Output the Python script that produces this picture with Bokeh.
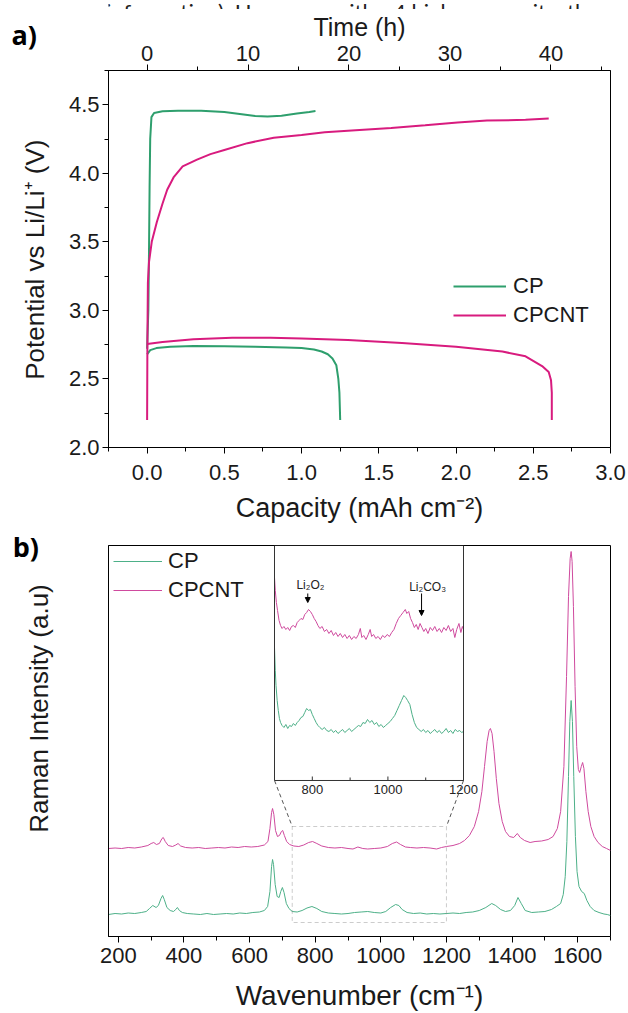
from bokeh.plotting import figure
from bokeh.layouts import column
from bokeh.models import (Range1d, LinearAxis, FixedTicker, PrintfTickFormatter, Legend,
                          LegendItem, Label, BoxAnnotation, Arrow, NormalHead)
from bokeh.core.properties import value
from bokeh.embed import file_html
from bokeh.resources import INLINE
import math

FONT = "Liberation Sans"

# ---------------- Panel a data (capacity mAh cm-2, potential V) ----------------
cp_charge = [(0.0, 2.72), (0.008, 3.0), (0.012, 3.4), (0.016, 3.9), (0.02, 4.25), (0.028, 4.41),
             (0.045, 4.44), (0.1, 4.452), (0.2, 4.457), (0.35, 4.457), (0.5, 4.447), (0.6, 4.433),
             (0.7, 4.418), (0.78, 4.414), (0.87, 4.42), (0.97, 4.436), (1.05, 4.448), (1.09, 4.455)]
cp_discharge = [(0.0, 2.68), (0.02, 2.71), (0.06, 2.725), (0.15, 2.735), (0.3, 2.74), (0.5, 2.738),
                (0.7, 2.735), (0.9, 2.73), (1.0, 2.725), (1.08, 2.715), (1.13, 2.70), (1.17, 2.68),
                (1.2, 2.65), (1.225, 2.6), (1.238, 2.5), (1.245, 2.4), (1.25, 2.2)]
cnt_charge = [(0.0, 2.2), (0.002, 2.8), (0.005, 3.2), (0.012, 3.35), (0.03, 3.5), (0.063, 3.645),
              (0.1, 3.78), (0.13, 3.88), (0.171, 3.97), (0.23, 4.05), (0.323, 4.10), (0.41, 4.14),
              (0.50, 4.17), (0.65, 4.22), (0.82, 4.26), (1.0, 4.28), (1.15, 4.30), (1.35, 4.315),
              (1.58, 4.33), (1.8, 4.35), (2.01, 4.37), (2.2, 4.385), (2.45, 4.39), (2.6, 4.40)]
cnt_discharge = [(0.0, 2.755), (0.1, 2.77), (0.3, 2.79), (0.55, 2.80), (0.8, 2.80), (1.0, 2.795),
                 (1.3, 2.785), (1.65, 2.763), (2.0, 2.735), (2.3, 2.70), (2.45, 2.665), (2.557, 2.594),
                 (2.6, 2.55), (2.615, 2.49), (2.62, 2.4), (2.62, 2.2)]

cap_ticks = [0.0, 0.5, 1.0, 1.5, 2.0, 2.5, 3.0]
cap_minor = [-0.25, 0.25, 0.75, 1.25, 1.75, 2.25, 2.75]
pot_ticks = [2.0, 2.5, 3.0, 3.5, 4.0, 4.5]
pot_minor = [2.25, 2.75, 3.25, 3.75, 4.25, 4.75]
time_ticks = [0, 10, 20, 30, 40]
time_minor = [5, 15, 25, 35, 45]
time_range = (-3.82, 45.9)

# ---------------- Panel b data (wavenumber cm-1, intensity a.u.) ----------------
cp_raman = [(170, 22), (190, 23), (210, 22.5), (230, 23.5), (250, 23), (270, 24), (285, 25), (295, 28),
            (305, 31), (315, 29), (322, 31), (330, 38), (335, 41), (340, 37), (348, 29), (358, 26),
            (368, 25), (375, 27), (380, 29), (386, 26), (395, 24), (410, 23), (430, 22.5), (450, 22),
            (470, 23), (490, 22), (510, 22.5), (530, 23), (550, 22.5), (570, 23.5), (590, 23), (610, 24),
            (630, 24.5), (645, 26), (655, 30), (662, 45), (667, 70), (670, 77), (673, 72), (678, 52),
            (684, 40), (690, 39), (695, 45), (700, 49), (705, 44), (712, 33), (720, 28), (730, 25),
            (745, 24.5), (760, 26), (775, 28.5), (790, 30), (805, 28), (820, 25), (840, 23.5), (860, 23),
            (880, 22.5), (900, 23), (920, 24), (940, 24.5), (960, 25), (980, 24), (1000, 23.5), (1015, 25),
            (1030, 29), (1045, 32), (1055, 31), (1065, 27), (1080, 24), (1100, 23), (1120, 23.5),
            (1140, 22.5), (1160, 23), (1180, 22.5), (1200, 23), (1220, 23.5), (1240, 23), (1260, 24),
            (1280, 24.5), (1300, 26), (1320, 29), (1338, 33), (1350, 31), (1365, 27), (1380, 25),
            (1395, 26), (1408, 31), (1418, 39), (1428, 33), (1440, 26), (1460, 24), (1480, 24.5),
            (1500, 25), (1520, 27), (1535, 30), (1548, 33), (1556, 42), (1562, 60), (1567, 95),
            (1572, 160), (1576, 215), (1580, 236), (1584, 215), (1588, 160), (1593, 100), (1598, 65),
            (1604, 50), (1612, 45), (1620, 43), (1628, 36), (1638, 30), (1650, 26), (1665, 24),
            (1680, 22.5), (1690, 22), (1700, 21)]
cnt_raman = [(170, 88), (190, 88.5), (210, 88), (230, 89), (250, 88.5), (270, 89.5), (290, 91), (300, 93),
             (308, 94), (316, 92), (325, 93), (333, 98), (337, 99), (343, 95), (352, 91), (365, 90),
             (375, 91.5), (382, 93), (390, 90.5), (405, 89), (425, 88.5), (445, 89), (465, 88),
             (485, 88.5), (505, 89), (525, 88.5), (545, 89.5), (565, 89), (585, 90), (605, 89.5),
             (625, 90), (645, 91.5), (656, 95), (662, 108), (667, 124), (670, 128), (674, 122),
             (679, 106), (685, 100), (691, 101), (697, 105), (701, 106), (706, 101), (713, 95),
             (722, 92), (735, 90.5), (750, 90), (765, 91.5), (780, 94), (792, 95), (805, 93),
             (820, 90.5), (840, 89), (860, 88.5), (880, 89), (900, 88), (915, 87.5), (930, 89.5),
             (945, 88), (960, 87.5), (980, 88), (1000, 88.5), (1020, 90), (1035, 93), (1048, 94.5),
             (1060, 92), (1075, 89.5), (1090, 89), (1110, 88.5), (1130, 89), (1150, 88.5), (1170, 87.5),
             (1185, 89), (1200, 90), (1220, 91), (1240, 93), (1255, 96), (1270, 101), (1285, 110),
             (1298, 125), (1308, 145), (1316, 170), (1324, 195), (1330, 206), (1334, 208), (1339, 203),
             (1345, 185), (1352, 158), (1360, 133), (1370, 115), (1380, 105), (1392, 100), (1405, 99),
             (1416, 103), (1425, 99), (1438, 96), (1455, 94), (1470, 95), (1490, 95.5), (1510, 97),
             (1525, 100), (1538, 108), (1548, 125), (1558, 170), (1566, 260), (1572, 340), (1577, 378),
             (1580, 385), (1583, 375), (1587, 330), (1592, 250), (1597, 190), (1602, 167), (1606, 164),
             (1611, 170), (1615, 174), (1619, 168), (1625, 145), (1632, 125), (1640, 110), (1650, 100),
             (1662, 94), (1675, 90), (1688, 88), (1700, 86)]

inset_cnt = [(700, 203), (702, 190), (705, 178), (708, 170), (712, 160), (716, 155), (720, 152), (725, 154),
             (730, 151), (735, 153), (740, 150), (745, 154), (750, 155), (755, 153), (760, 158), (765, 160),
             (770, 162), (775, 161), (780, 166), (785, 168), (790, 171), (795, 169), (800, 166), (805, 162),
             (810, 159), (815, 155), (820, 152), (826, 154), (832, 149), (838, 151), (844, 147), (850, 150),
             (856, 145), (862, 148), (868, 144), (874, 147), (880, 143), (886, 146), (892, 142), (898, 145),
             (904, 141), (910, 144), (916, 142), (922, 146), (927, 152), (931, 143), (936, 145), (942, 141),
             (948, 146), (953, 151), (957, 144), (962, 146), (968, 142), (974, 144), (980, 141), (986, 145),
             (992, 143), (998, 146), (1004, 144), (1010, 148), (1016, 151), (1022, 157), (1028, 162),
             (1034, 165), (1040, 168), (1046, 171), (1050, 167), (1055, 169), (1060, 162), (1065, 158),
             (1070, 153), (1075, 156), (1080, 151), (1085, 157), (1090, 153), (1095, 149), (1100, 152),
             (1106, 147), (1112, 153), (1118, 150), (1124, 154), (1130, 149), (1136, 152), (1142, 148),
             (1148, 153), (1154, 150), (1160, 155), (1166, 149), (1172, 152), (1177, 143), (1182, 151),
             (1188, 157), (1193, 148), (1197, 154), (1200, 151)]
inset_cp = [(700, 133), (702, 110), (704, 95), (707, 80), (710, 70), (713, 62), (716, 58), (720, 55),
            (725, 53), (730, 56), (735, 52), (740, 55), (745, 54), (750, 57), (755, 55), (760, 58),
            (765, 60), (770, 63), (775, 64), (780, 68), (785, 72), (790, 70), (795, 71), (800, 66),
            (805, 62), (810, 58), (815, 55), (820, 53), (826, 51), (832, 53), (838, 50), (844, 49),
            (850, 51), (856, 48), (862, 50), (868, 47), (874, 49), (880, 51), (886, 48), (892, 50),
            (898, 52), (904, 49), (910, 51), (916, 53), (922, 55), (928, 54), (934, 58), (940, 57),
            (946, 61), (952, 58), (958, 60), (964, 56), (970, 58), (976, 54), (982, 56), (988, 53),
            (994, 55), (1000, 57), (1006, 59), (1012, 62), (1018, 65), (1024, 70), (1030, 75), (1036, 80),
            (1042, 85), (1047, 83), (1052, 80), (1058, 76), (1064, 66), (1070, 58), (1076, 53), (1082, 51),
            (1088, 49), (1094, 51), (1100, 48), (1106, 50), (1112, 47), (1118, 49), (1124, 51), (1130, 48),
            (1136, 50), (1142, 47), (1148, 49), (1154, 52), (1160, 48), (1166, 50), (1172, 47), (1178, 51),
            (1184, 49), (1190, 50), (1195, 48), (1200, 49)]

wn_ticks = [200, 400, 600, 800, 1000, 1200, 1400, 1600]
wn_minor = [300, 500, 700, 900, 1100, 1300, 1500, 1700]
inset_ticks = [800, 1000, 1200]
inset_tick_labels = ["800", "1000", "1200"]
inset_minor = [900, 1100]
inset_xlim = (700, 1200)
inset_ylim = (0, 235)
zoom_box = dict(left=730, right=1200, bottom=14, top=110)

header_text = ["information). However, with ~4 higher capacity, than the"]

GREEN_A, PINK_A = "#2E9F6D", "#D81B7E"
GREEN_B, PINK_B = "#4DB088", "#CF4A9E"


def xs(pairs):
    return [p[0] for p in pairs]


def ys(pairs):
    return [p[1] for p in pairs]


def style_axis(ax, tick_size="22px", label_size="26px"):
    ax.major_label_text_font = FONT
    ax.major_label_text_font_size = tick_size
    ax.major_label_text_color = "#1a1a1a"
    ax.axis_label_text_font = FONT
    ax.axis_label_text_font_size = label_size
    ax.axis_label_text_font_style = "normal"
    ax.axis_label_text_color = "#1a1a1a"
    ax.axis_line_color = "black"
    ax.major_tick_line_color = "black"
    ax.minor_tick_line_color = "black"
    ax.major_tick_in = 0
    ax.major_tick_out = 6
    ax.minor_tick_in = 0
    ax.minor_tick_out = 4


# ---------------- header strip: the clipped line of body text above the chart ----------------
HEADER_H = 9
hf = figure(width=628, height=HEADER_H, x_range=Range1d(0, 628), y_range=Range1d(0, HEADER_H),
            output_backend="svg", toolbar_location=None, min_border=0,
            x_axis_location=None, y_axis_location=None)
hf.outline_line_color = None
hf.xgrid.visible = False
hf.ygrid.visible = False
hf.text(x=[-3], y=[1], text=header_text, text_font=value("Lato"), text_font_size="22px",
        text_baseline="alphabetic", text_color="#222222")

# ---------------- Panel a ----------------
pa = figure(width=628, height=525 - HEADER_H, x_range=Range1d(-0.25, 3.0), y_range=Range1d(2.0, 4.75),
            output_backend="svg", toolbar_location=None,
            min_border_left=108, min_border_right=18, min_border_top=68 - HEADER_H, min_border_bottom=78,
            x_axis_label="Capacity (mAh cm\u207b\u00b2)")
pa.xgrid.visible = False
pa.ygrid.visible = False
pa.outline_line_color = "black"
pa.outline_line_alpha = 1.0

pa.extra_x_ranges = {"time": Range1d(*time_range)}
top_axis = LinearAxis(x_range_name="time", axis_label="Time (h)",
                      ticker=FixedTicker(ticks=time_ticks, minor_ticks=time_minor))
pa.add_layout(top_axis, "above")

bx = pa.below[0]
bx.ticker = FixedTicker(ticks=cap_ticks, minor_ticks=cap_minor)
bx.formatter = PrintfTickFormatter(format="%.1f")
ly = pa.left[0]
ly.ticker = FixedTicker(ticks=pot_ticks, minor_ticks=pot_minor)
ly.formatter = PrintfTickFormatter(format="%.1f")
for ax in (bx, ly, top_axis):
    style_axis(ax)
bx.axis_label_text_font_size = "27px"
ly.major_label_standoff = 3
bx.major_label_standoff = 11
bx.axis_label_standoff = 10
top_axis.axis_label_text_font_size = "25px"
top_axis.axis_label_text_line_height = 0.9
top_axis.major_label_text_line_height = 0.9
top_axis.major_label_standoff = 4
top_axis.axis_label_standoff = 2

r_cp_c = pa.line(xs(cp_charge), ys(cp_charge), line_color=GREEN_A, line_width=2)
pa.line(xs(cp_discharge), ys(cp_discharge), line_color=GREEN_A, line_width=2)
r_cnt_c = pa.line(xs(cnt_charge), ys(cnt_charge), line_color=PINK_A, line_width=2)
pa.line(xs(cnt_discharge), ys(cnt_discharge), line_color=PINK_A, line_width=2)

leg_a = Legend(items=[LegendItem(label="CP", renderers=[r_cp_c]),
                      LegendItem(label="CPCNT", renderers=[r_cnt_c])],
               location=(345, 119), glyph_width=53, glyph_height=20, label_height=20,
               label_standoff=7, spacing=3, padding=0, margin=0,
               border_line_alpha=0, background_fill_alpha=0,
               label_text_font=FONT, label_text_font_size="22px", label_text_color="#1a1a1a")
pa.add_layout(leg_a)

# y title and panel letter live in the left side panel (not clipped to the frame)
pa.add_layout(Label(x=-0.729, y=3.37, text="Potential vs Li/Li\u207a (V)", angle=math.pi / 2,
                    text_align="center", text_baseline="middle",
                    text_font=FONT, text_font_size="26px", text_color="#1a1a1a"), "left")
pa.add_layout(Label(x=-0.878, y=5.014, text="a)", text_font="Open Sans", text_font_style="bold",
                    text_font_size="27px", text_baseline="middle", text_color="black"), "left")

# ---------------- Panel b ----------------
pb = figure(width=628, height=488, x_range=Range1d(170, 1700), y_range=Range1d(0, 391),
            output_backend="svg", toolbar_location=None,
            min_border_left=108, min_border_right=18, min_border_top=20, min_border_bottom=77,
            x_axis_label="Wavenumber (cm\u207b\u00b9)")
pb.xgrid.visible = False
pb.ygrid.visible = False
pb.outline_line_color = "black"
pb.outline_line_alpha = 1.0

bxb = pb.below[0]
bxb.ticker = FixedTicker(ticks=wn_ticks, minor_ticks=wn_minor)
lyb = pb.left[0]
lyb.ticker = FixedTicker(ticks=[], minor_ticks=[])
for ax in (bxb, lyb):
    style_axis(ax, tick_size="22px", label_size="28px")
lyb.major_tick_out = 0
lyb.minor_tick_out = 0
bxb.major_label_standoff = 5
bxb.axis_label_standoff = 14

r_cp_b = pb.line(xs(cp_raman), ys(cp_raman), line_color=GREEN_B, line_width=1)
r_cnt_b = pb.line(xs(cnt_raman), ys(cnt_raman), line_color=PINK_B, line_width=1)

leg_b = Legend(items=[LegendItem(label="CP", renderers=[r_cp_b]),
                      LegendItem(label="CPCNT", renderers=[r_cnt_b])],
               location=(5, 333), glyph_width=49, glyph_height=20, label_height=20,
               label_standoff=6, spacing=3, padding=0, margin=0,
               border_line_alpha=0, background_fill_alpha=0,
               label_text_font=FONT, label_text_font_size="22px", label_text_color="#1a1a1a")
pb.add_layout(leg_b)

pb.add_layout(Label(x=-43, y=228, text="Raman Intensity (a.u)", angle=math.pi / 2,
                    text_align="center", text_baseline="middle",
                    text_font=FONT, text_font_size="26px", text_color="#1a1a1a"), "left")

# inset ranges: inset occupies a fixed fraction of the frame
INSET_FX = (0.3307, 0.7072)
INSET_FY = (0.399, 1.0)
ix_span = (inset_xlim[1] - inset_xlim[0]) / (INSET_FX[1] - INSET_FX[0])
ix_start = inset_xlim[0] - INSET_FX[0] * ix_span
iy_span = (inset_ylim[1] - inset_ylim[0]) / (INSET_FY[1] - INSET_FY[0])
iy_start = inset_ylim[0] - INSET_FY[0] * iy_span
pb.extra_x_ranges = {"ix": Range1d(ix_start, ix_start + ix_span)}
pb.extra_y_ranges = {"iy": Range1d(iy_start, iy_start + iy_span)}


def inset_to_main(x, y):
    fx = (x - ix_start) / ix_span
    fy = (y - iy_start) / iy_span
    return (pb.x_range.start + fx * (pb.x_range.end - pb.x_range.start),
            pb.y_range.start + fy * (pb.y_range.end - pb.y_range.start))


pb.line(xs(inset_cnt), ys(inset_cnt), line_color=PINK_B, line_width=1,
        x_range_name="ix", y_range_name="iy")
pb.line(xs(inset_cp), ys(inset_cp), line_color=GREEN_B, line_width=1,
        x_range_name="ix", y_range_name="iy")

pb.add_layout(BoxAnnotation(left=inset_xlim[0], right=inset_xlim[1], bottom=inset_ylim[0], top=inset_ylim[1],
                            x_range_name="ix", y_range_name="iy", fill_alpha=0,
                            line_color="#333333", line_width=1, line_alpha=1))
pb.segment(x0=inset_ticks, y0=[inset_ylim[0]] * 3, x1=inset_ticks, y1=[inset_ylim[0] + 4] * 3,
           line_color="#333333", line_width=1, x_range_name="ix", y_range_name="iy")
pb.segment(x0=inset_minor, y0=[inset_ylim[0]] * 2, x1=inset_minor, y1=[inset_ylim[0] + 3] * 2,
           line_color="#333333", line_width=1, x_range_name="ix", y_range_name="iy")
pb.text(x=inset_ticks, y=[inset_ylim[0] - 5] * 3, text=inset_tick_labels, text_align="center",
        text_baseline="top", text_font=value(FONT), text_font_size="13px", text_color="#222222",
        x_range_name="ix", y_range_name="iy")

# zoom box and connectors
pb.add_layout(BoxAnnotation(fill_alpha=0, line_color="#555555", line_width=1, line_dash="4 3",
                            **zoom_box))
c_left = inset_to_main(inset_xlim[0], inset_ylim[0])
c_right = inset_to_main(inset_xlim[1], inset_ylim[0])
pb.segment(x0=[c_left[0], c_right[0]], y0=[c_left[1], c_right[1]],
           x1=[zoom_box["left"], zoom_box["right"]], y1=[zoom_box["top"], zoom_box["top"]],
           line_color="#555555", line_width=1, line_dash="4 3")

# peak annotations in the inset
pb.add_layout(Label(x=795, y=195, text="Li\u2082O\u2082", x_range_name="ix", y_range_name="iy",
                    text_align="center", text_baseline="middle", text_font=FONT,
                    text_font_size="12px", text_color="#222222"))
pb.add_layout(Label(x=1105, y=193, text="Li\u2082CO\u2083", x_range_name="ix", y_range_name="iy",
                    text_align="center", text_baseline="middle", text_font=FONT,
                    text_font_size="12px", text_color="#222222"))
pb.add_layout(Arrow(end=NormalHead(size=5, fill_color="black", line_color="black"),
                    x_start=788, y_start=187, x_end=788, y_end=178, line_width=1,
                    x_range_name="ix", y_range_name="iy"))
pb.add_layout(Arrow(end=NormalHead(size=5, fill_color="black", line_color="black"),
                    x_start=1089, y_start=187, x_end=1089, y_end=165, line_width=1,
                    x_range_name="ix", y_range_name="iy"))

pb.add_layout(Label(x=-122, y=390, text="b)", text_font="Open Sans", text_font_style="bold",
                    text_font_size="27px", text_baseline="middle", text_color="black"), "left")

page = column(hf, pa, pb, spacing=0)
open("out.html", "w").write(file_html(page, INLINE))
